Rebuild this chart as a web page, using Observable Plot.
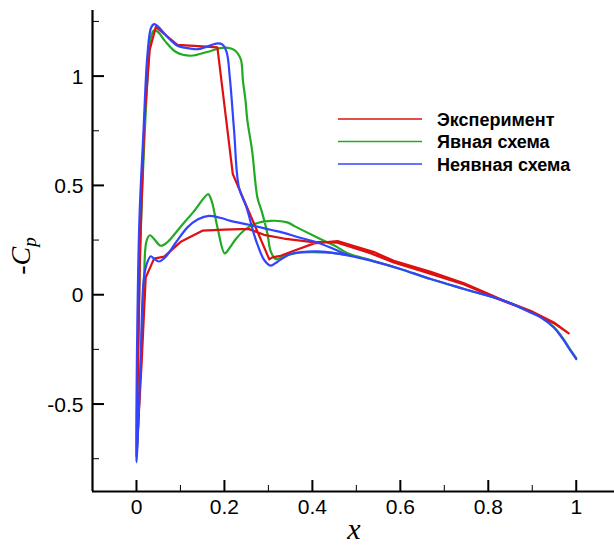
<!DOCTYPE html>
<html><head><meta charset="utf-8">
<script src="https://cdn.jsdelivr.net/npm/d3@7"></script>
<script src="https://cdn.jsdelivr.net/npm/@observablehq/plot@0.6"></script>
<style>body{margin:0;background:#fff}#chart{width:614px;height:547px}</style>
</head><body><div id="chart"></div>
<script>
const seriesNames = ["Эксперимент", "Явная схема", "Неявная схема"];
const seriesColors = ["#dd1111", "#22aa22", "#3344ff"];

// Experiment (red): TE upper -> LE -> TE lower
const expX = [0.983,0.949,0.896,0.835,0.745,0.669,0.585,0.54,0.457,0.404,0.358,0.328,0.309,0.302,0.219,0.184,0.15,0.093,0.044,0.03,0.018,0.008,0.0,
              0.012,0.021,0.04,0.063,0.1007,0.15,0.2,0.237,0.256,0.29,0.335,0.396,0.457,0.532,0.585,0.646,0.745,0.835,0.896,0.949,0.983];
const expY = [-0.177,-0.127,-0.073,-0.027,0.052,0.105,0.155,0.195,0.245,0.235,0.201,0.178,0.171,0.162,0.552,1.131,1.136,1.143,1.225,1.12,0.8,0.2,-0.74,
              -0.3,0.079,0.165,0.174,0.242,0.293,0.298,0.3,0.3,0.274,0.257,0.242,0.238,0.19,0.148,0.11,0.047,-0.03,-0.076,-0.13,-0.177];

// Explicit scheme (green)
const explicitX = [1.0,0.985,0.972,0.949,0.92,0.896,0.835,0.745,0.669,0.6,0.563,0.5,0.487,0.434,0.373,0.34,0.317,0.305,0.298,0.285,0.275,0.263,0.252,0.248,0.242,0.237,0.222,0.205,0.19,0.16,0.123,0.09,0.065,0.05,0.04,0.033,0.027,0.019,0.01,0.0,
                   0.009,0.017,0.023,0.031,0.04,0.055,0.07,0.1,0.13,0.163,0.168,0.173,0.185,0.2007,0.212,0.226,0.245,0.267,0.305,0.343,0.358,0.411,0.45,0.48,0.52,0.563,0.6,0.669,0.745,0.835,0.896,0.92,0.949,0.972,0.985,1.0];
const explicitY = [-0.29,-0.247,-0.205,-0.148,-0.103,-0.08,-0.027,0.026,0.072,0.118,0.14,0.175,0.18,0.193,0.193,0.18,0.163,0.2,0.278,0.38,0.445,0.658,0.8,0.887,0.98,1.078,1.12,1.13,1.128,1.11,1.093,1.11,1.16,1.2,1.21,1.18,1.05,0.75,0.3,-0.76,
                   -0.35,0.064,0.247,0.272,0.255,0.224,0.24,0.31,0.38,0.46,0.445,0.415,0.3,0.189,0.215,0.255,0.295,0.323,0.338,0.331,0.315,0.262,0.225,0.19,0.165,0.14,0.118,0.072,0.026,-0.027,-0.08,-0.103,-0.148,-0.205,-0.247,-0.29];

// Implicit scheme (blue)
const implicitX = [1.0,0.985,0.972,0.949,0.92,0.896,0.835,0.745,0.669,0.6,0.563,0.5,0.464,0.411,0.351,0.32,0.305,0.29,0.275,0.267,0.25,0.233,0.222,0.212,0.205,0.195,0.185,0.16,0.139,0.11,0.093,0.07,0.05,0.04,0.033,0.025,0.016,0.006,0.0,
                   0.009,0.017,0.025,0.0325,0.04,0.051,0.065,0.09,0.116,0.14,0.165,0.19,0.214,0.256,0.305,0.335,0.37,0.411,0.45,0.487,0.52,0.563,0.6,0.669,0.745,0.835,0.896,0.92,0.949,0.972,0.985,1.0];
const implicitY = [-0.294,-0.25,-0.21,-0.15,-0.105,-0.081,-0.027,0.026,0.072,0.118,0.14,0.172,0.186,0.198,0.186,0.15,0.133,0.16,0.23,0.278,0.4,0.49,0.75,1.0,1.11,1.145,1.15,1.135,1.123,1.13,1.139,1.18,1.225,1.238,1.22,1.1,0.75,0.3,-0.767,
                   -0.33,0.079,0.15,0.176,0.165,0.152,0.17,0.24,0.308,0.345,0.361,0.352,0.338,0.32,0.297,0.283,0.262,0.239,0.208,0.178,0.163,0.14,0.118,0.072,0.026,-0.027,-0.081,-0.105,-0.15,-0.21,-0.25,-0.294];

const xMajorTicks = [0, 0.2, 0.4, 0.6, 0.8, 1];
const xTickLabels = ["0", "0.2", "0.4", "0.6", "0.8", "1"];
const xMinorTicks = [0.1, 0.3, 0.5, 0.7, 0.9];
const yMajorTicks = [-0.5, 0, 0.5, 1];
const yTickLabels = ["-0.5", "0", "0.5", "1"];
const yMinorTicks = [-0.75, -0.25, 0.25, 0.75, 1.25];

const xDomain = [-0.1, 1.087];
const yDomain = [-0.9, 1.3];

function toRows(xs, ys, name) { return xs.map((x, i) => ({x, y: ys[i], series: name})); }
const expRows = toRows(expX, expY, seriesNames[0]);
const explicitRows = toRows(explicitX, explicitY, seriesNames[1]);
const implicitRows = toRows(implicitX, implicitY, seriesNames[2]);

const font = "'Liberation Sans', Arial, Helvetica, sans-serif";

const plot = Plot.plot({
  width: 614, height: 547,
  marginLeft: 92, marginRight: 0, marginTop: 10, marginBottom: 56,
  x: {domain: xDomain, axis: null},
  y: {domain: yDomain, axis: null},
  color: {domain: seriesNames, range: seriesColors},
  style: {fontFamily: font, background: "#fff", overflow: "visible"},
  marks: [
    Plot.line(explicitRows, {x: "x", y: "y", stroke: "series", strokeWidth: 2.2, curve: "catmull-rom"}),
    Plot.line(expRows, {x: "x", y: "y", stroke: "series", strokeWidth: 2.2}),
    Plot.line(implicitRows, {x: "x", y: "y", stroke: "series", strokeWidth: 2.2, curve: "catmull-rom"}),
    // axis lines
    Plot.ruleX([xDomain[0]], {y1: yDomain[0], y2: yDomain[1], stroke: "#000", strokeWidth: 2.2}),
    Plot.ruleY([yDomain[0]], {x1: xDomain[0], x2: xDomain[1], stroke: "#000", strokeWidth: 2.2}),
    // x ticks (pointing up)
    Plot.ruleX(xMajorTicks, {x: d => d, y1: yDomain[0], y2: yDomain[0], insetTop: -11, stroke: "#000", strokeWidth: 2}),
    Plot.ruleX(xMinorTicks, {x: d => d, y1: yDomain[0], y2: yDomain[0], insetTop: -6, stroke: "#000", strokeWidth: 1}),
    // y ticks (pointing right)
    Plot.ruleY(yMajorTicks, {y: d => d, x1: xDomain[0], x2: xDomain[0], insetRight: -12, stroke: "#000", strokeWidth: 2}),
    Plot.ruleY(yMinorTicks, {y: d => d, x1: xDomain[0], x2: xDomain[0], insetRight: -7, stroke: "#000", strokeWidth: 1}),
    // tick labels
    Plot.text(xMajorTicks, {x: d => d, y: yDomain[0], text: (d, i) => xTickLabels[i], dy: 16, fontSize: 21, fill: "#000"}),
    Plot.text(yMajorTicks, {x: xDomain[0], y: d => d, text: (d, i) => yTickLabels[i], textAnchor: "end", dx: -9, dy: 1, fontSize: 21, fill: "#000"})
  ]
});

document.getElementById("chart").appendChild(plot);
const svg = d3.select(plot);
const serif = "'Liberation Serif', 'Times New Roman', 'DejaVu Serif', serif";

// x axis title
svg.append("text")
  .attr("x", 354).attr("y", 539)
  .attr("text-anchor", "middle")
  .attr("font-family", serif).attr("font-style", "italic").attr("font-size", 30)
  .attr("fill", "#000")
  .text("x");

// y axis title -C_p
const yt = svg.append("text")
  .attr("transform", "translate(30,256) rotate(-90)")
  .attr("text-anchor", "middle")
  .attr("font-family", serif).attr("font-size", 28).attr("fill", "#000");
yt.append("tspan").text("-");
yt.append("tspan").attr("font-style", "italic").text("C");
yt.append("tspan").attr("font-style", "italic").attr("font-size", 19).attr("dy", 6).text("p");

// legend
const lg = svg.append("g").attr("text-anchor", "start");
seriesNames.forEach((name, i) => {
  const yc = 119 + i * 22.5;
  lg.append("line").attr("x1", 338).attr("x2", 422).attr("y1", yc).attr("y2", yc)
    .attr("stroke", seriesColors[i]).attr("stroke-width", 1.6);
  lg.append("text").attr("x", 437).attr("y", yc + 6.5)
    .attr("text-anchor", "start")
    .attr("font-family", font).attr("font-weight", "bold").attr("font-size", 18)
    .attr("fill", "#000").text(name);
});
</script>
</body></html>
